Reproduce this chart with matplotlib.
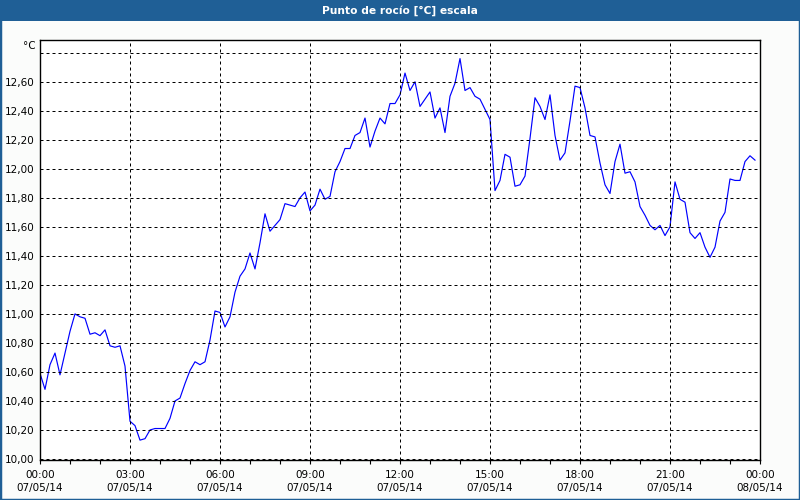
import pandas as pd
import matplotlib
matplotlib.use("Agg")
import matplotlib.pyplot as plt
import matplotlib.dates as mdates
from matplotlib.patches import Rectangle
from matplotlib.ticker import FixedLocator, FuncFormatter

# dew point readings, every 10 minutes on 07/05/14
dew_point = [
    10.59, 10.48, 10.65, 10.73, 10.58, 10.73, 10.88, 11.00, 10.98, 10.97,
    10.86, 10.87, 10.85, 10.89, 10.78, 10.77, 10.78, 10.64, 10.26, 10.23,
    10.13, 10.14, 10.20, 10.21, 10.21, 10.21, 10.28, 10.40, 10.42, 10.52,
    10.61, 10.67, 10.65, 10.67, 10.82, 11.02, 11.01, 10.91, 10.98, 11.15,
    11.26, 11.31, 11.42, 11.31, 11.49, 11.69, 11.57, 11.61, 11.65, 11.76,
    11.75, 11.74, 11.80, 11.84, 11.71, 11.75, 11.86, 11.79, 11.81, 11.98,
    12.05, 12.14, 12.14, 12.23, 12.25, 12.35, 12.15, 12.26, 12.35, 12.31,
    12.45, 12.45, 12.51, 12.66, 12.54, 12.60, 12.43, 12.48, 12.53, 12.35,
    12.42, 12.25, 12.50, 12.59, 12.76, 12.54, 12.56, 12.50, 12.48, 12.41,
    12.34, 11.85, 11.92, 12.10, 12.08, 11.88, 11.89, 11.95, 12.21, 12.49,
    12.43, 12.34, 12.51, 12.23, 12.06, 12.11, 12.33, 12.57, 12.56, 12.42,
    12.23, 12.22, 12.04, 11.89, 11.83, 12.05, 12.17, 11.97, 11.98, 11.91,
    11.74, 11.68, 11.61, 11.58, 11.61, 11.54, 11.60, 11.91, 11.79, 11.77,
    11.56, 11.52, 11.56, 11.46, 11.39, 11.46, 11.64, 11.70, 11.93, 11.92,
    11.92, 12.05, 12.09, 12.06,
]
times = pd.date_range("2014-05-07 00:00", periods=len(dew_point), freq="10min")

y_ticks = [10.0, 10.2, 10.4, 10.6, 10.8, 11.0, 11.2, 11.4, 11.6, 11.8,
           12.0, 12.2, 12.4, 12.6, 12.8]
title = "Punto de rocío [°C] escala"
unit = "°C"

blue_frame = "#1f5f96"
grid_style = dict(color="black", linewidth=0.72, linestyle=(0, (3, 3)))

fig = plt.figure(figsize=(8, 5), dpi=100, facecolor="#fbfcfb")

# window frame + title bar
fig.patches.append(Rectangle((0, 0), 1, 1, transform=fig.transFigure,
                             fill=False, edgecolor=blue_frame, linewidth=2.5))
fig.patches.append(Rectangle((0, 0.958), 1, 0.042, transform=fig.transFigure,
                             facecolor=blue_frame, edgecolor="none"))
fig.text(0.5, 0.979, title, color="white", fontsize=7.7, fontweight="bold",
         ha="center", va="center")

ax = fig.add_axes([0.05, 0.08, 0.90, 0.84])
ax.set_facecolor("white")
ax.plot(times, dew_point, color="#0000ff", linewidth=0.85)

start = pd.Timestamp("2014-05-07 00:00")
end = pd.Timestamp("2014-05-08 00:00")
ax.set_xlim(start, end)
ax.set_ylim(9.993, 12.888)

ax.xaxis.set_major_locator(mdates.HourLocator(byhour=range(0, 24, 3)))
ax.xaxis.set_minor_locator(mdates.HourLocator())
ax.xaxis.set_major_formatter(mdates.DateFormatter("%H:%M\n%d/%m/%y"))
ax.tick_params(axis="x", which="both", direction="out", length=3,
               width=0.8, labelsize=7.5, pad=4)
for lbl in ax.get_xticklabels():
    lbl.set_linespacing(1.45)

ax.yaxis.set_major_locator(FixedLocator(y_ticks))
ax.yaxis.set_major_formatter(FuncFormatter(
    lambda v, p: "" if v > 12.7 else f"{v:.2f}".replace(".", ",")))
ax.tick_params(axis="y", length=0, labelsize=7.5, pad=4)
ax.text(-0.006, 12.845, unit, transform=ax.get_yaxis_transform(),
        ha="right", va="center", fontsize=7.5)

for v in y_ticks:
    ax.axhline(v, **grid_style)
for h in range(3, 24, 3):
    ax.axvline(start + pd.Timedelta(hours=h), **grid_style)

for s in ax.spines.values():
    s.set_color("black")
    s.set_linewidth(1.0)

fig.savefig("out.png", dpi=100, facecolor=fig.get_facecolor())
